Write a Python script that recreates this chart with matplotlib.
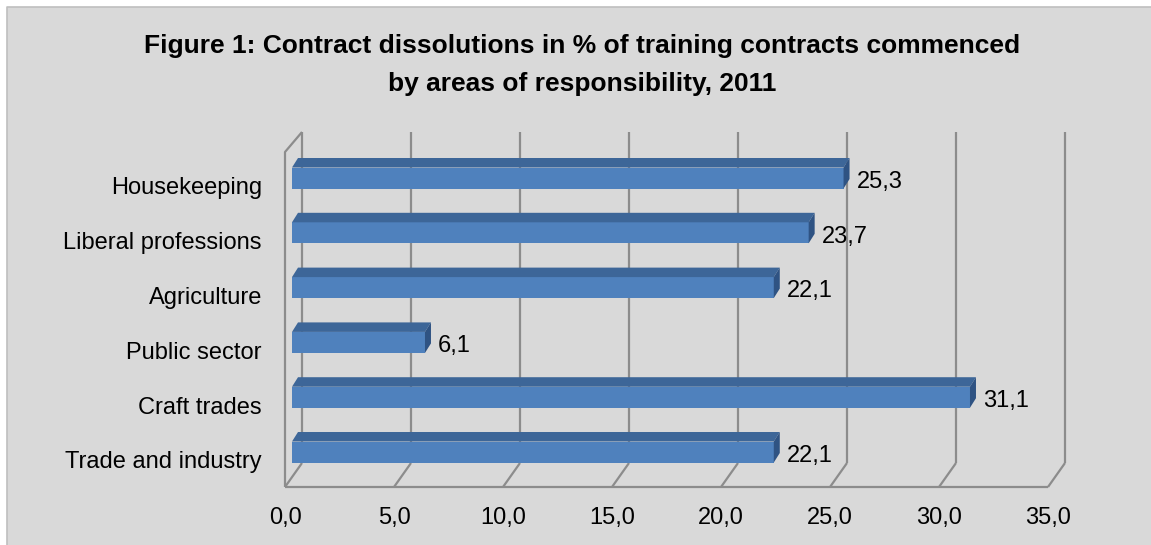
import matplotlib
matplotlib.use("Agg")
import matplotlib.pyplot as plt
from matplotlib.patches import Polygon, Rectangle
from matplotlib.lines import Line2D

plt.rcParams['font.family'] = ['Liberation Sans', 'DejaVu Sans']

categories = ["Trade and industry", "Craft trades", "Public sector",
              "Agriculture", "Liberal professions", "Housekeeping"]
values = [22.1, 31.1, 6.1, 22.1, 23.7, 25.3]
xticks = [0, 5, 10, 15, 20, 25, 30, 35]
title1 = "Figure 1: Contract dissolutions in % of training contracts commenced"
title2 = "by areas of responsibility, 2011"

W, H = 1151, 545
fig = plt.figure(figsize=(W / 100, H / 100), dpi=100, facecolor="white")

# grey chart area, border only along top and left
fig.add_artist(Rectangle((7 / W, 0), 1, (H - 7) / H, transform=fig.transFigure,
                         facecolor="#d9d9d9", edgecolor="none", zorder=0))
fig.add_artist(Line2D([7 / W, 7 / W, 1], [0, (H - 7) / H, (H - 7) / H], transform=fig.transFigure,
                      color="#bfbfbf", linewidth=1.2, zorder=0))

# axes = plane of the bars' front faces
ax = fig.add_axes([292 / W, (H - 477) / H, 763 / W, 331 / H])
ax.set_xlim(0, 35)
y0, y1 = -0.456, 5.584
ax.set_ylim(y0, y1)
ax.axis("off")

sx = 763 / 35.0        # px per x unit
sy = 331 / (y1 - y0)   # px per category unit
FX, FY = -7 / sx, -10 / sy   # front floor edge offset
BX, BY = 10 / sx, 14 / sy    # back wall offset
DX, DY = 6 / sx, 9.5 / sy    # bar depth
grid_kw = dict(color="#8c8c8c", linewidth=1.6, clip_on=False, solid_capstyle="butt", zorder=1)

# back wall gridlines and floor
for t in xticks:
    ax.plot([t + BX, t + BX], [y0 + BY, y1 + BY], **grid_kw)
    ax.plot([t + FX, t + BX], [y0 + FY, y0 + BY], **grid_kw)
ax.plot([FX, 35 + FX], [y0 + FY, y0 + FY], **grid_kw)
# left wall
ax.plot([FX, FX, BX], [y0 + FY, y1 + FY + 4 / sy, y1 + BY], **grid_kw)

# bars
pos = list(range(len(categories)))
h = 21 / sy
ax.barh(pos, values, height=h, color="#4f81bd", zorder=3, clip_on=False)
for y, v in zip(pos, values):
    top = y + h / 2
    bot = y - h / 2
    ax.add_patch(Polygon([(0, top), (v, top), (v + DX, top + DY), (DX, top + DY)],
                         closed=True, facecolor="#3d6698", edgecolor="none", zorder=3, clip_on=False))
    ax.add_patch(Polygon([(v, bot), (v, top), (v + DX, top + DY), (v + DX, bot + DY)],
                         closed=True, facecolor="#2f5383", edgecolor="none", zorder=3, clip_on=False))
    ax.text(v + 0.6, y - 0.177, f"{v:.1f}".replace(".", ","), ha="left", va="baseline",
            fontsize=17, color="black", zorder=4)
    ax.text(-1.38, y - 0.30, categories[y], ha="right", va="baseline", fontsize=17, color="black")

for t in xticks:
    ax.text(t + FX, y0 - 0.858, f"{t:.1f}".replace(".", ","), ha="center", va="baseline",
            fontsize=17, color="black")

fig.text(582.5 / W, 1 - 53 / H, title1, ha="center", va="baseline", fontsize=19, fontweight="bold")
fig.text(582.5 / W, 1 - 91.5 / H, title2, ha="center", va="baseline", fontsize=19, fontweight="bold")

fig.savefig("out.png", dpi=100, facecolor="white")
